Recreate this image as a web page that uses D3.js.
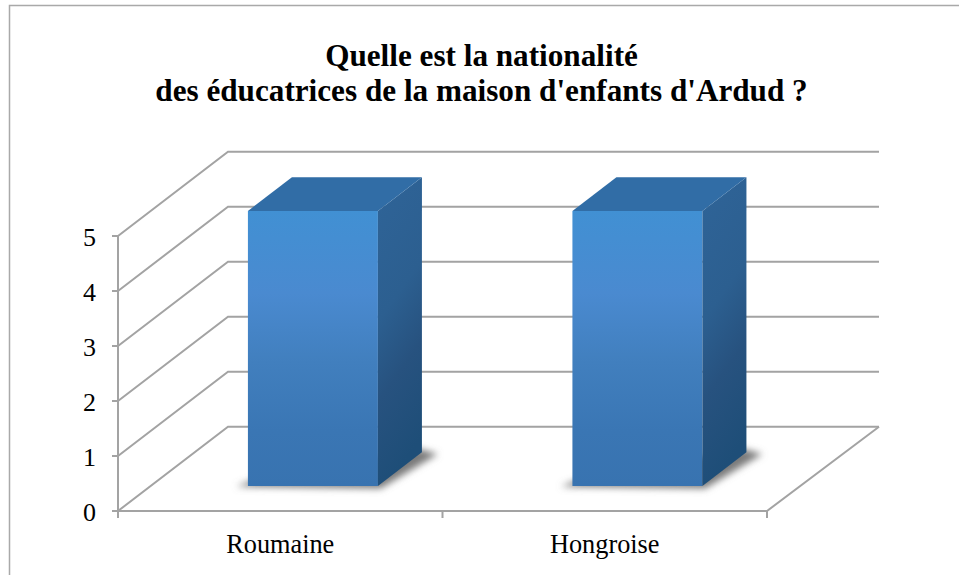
<!DOCTYPE html>
<html>
<head>
<meta charset="utf-8">
<script src="https://d3js.org/d3.v7.min.js"></script>
<style>
  html, body { margin: 0; padding: 0; background: #fff; }
  svg { display: block; }
  text { font-family: "Liberation Serif", serif; fill: #000; }
</style>
</head>
<body>
<svg id="chart" width="959" height="575"></svg>
<script>
var titleLines = ['Quelle est la nationalité', "des éducatrices de la maison d'enfants d'Ardud ?"];
var categories = ['Roumaine', 'Hongroise'];
var values = [5, 5];
var yTicks = [0, 1, 2, 3, 4, 5];

var width = 959, height = 575;
var gridColor = '#a3a3a3';
// how far the back wall is shifted from the front plane
var depthX = 110, depthY = -84.3;

var svg = d3.select('#chart');

var xScale = d3.scaleBand().domain(categories).range([118, 767]).paddingInner(0).paddingOuter(0);
var yScale = d3.scaleLinear().domain([0, 5]).range([511, 236]);
var zScale = d3.scaleLinear().domain([0, 1]).range([0, 1]);

// category px, value, depth (0 = front, 1 = back) to screen coords
function project(px, v, z) {
  return [px + zScale(z) * depthX, yScale(v) + zScale(z) * depthY];
}
function poly(points) {
  return points.map(function(p) { return p.join(','); }).join(' ');
}

var defs = svg.append('defs');

function addGradient(id, stops, x2, y2) {
  var g = defs.append('linearGradient').attr('id', id)
    .attr('x1', 0).attr('y1', 0).attr('x2', x2).attr('y2', y2);
  stops.forEach(function(s) {
    g.append('stop').attr('offset', s[0]).attr('stop-color', s[1]);
  });
}
addGradient('frontFill', [[0, '#4190d3'], [0.3, '#4a8ad0'], [0.55, '#417fbe'], [0.8, '#3a76b4'], [1, '#3873b0']], 0, 1);
addGradient('sideFill', [[0, '#2f6498'], [0.45, '#2c5f90'], [0.7, '#27527f'], [1, '#1e4e78']], 0.2, 1);

defs.append('filter').attr('id', 'barShadow')
  .attr('x', '-20%').attr('y', '-20%').attr('width', '140%').attr('height', '140%')
  .append('feGaussianBlur').attr('stdDeviation', 3.5);

// chart frame, runs off the right and bottom of the picture
svg.append('path')
  .attr('d', 'M9.5,575V5.5H959')
  .attr('fill', 'none').attr('stroke', '#a9a9a9').attr('stroke-width', 1.5);

// title
svg.selectAll('text.title').data(titleLines).enter().append('text')
  .attr('class', 'title')
  .attr('x', 481.5)
  .attr('y', function(d, i) { return 66 + i * 34.5; })
  .attr('text-anchor', 'middle')
  .attr('font-size', 31.2)
  .attr('font-weight', 'bold')
  .text(function(d) { return d; });

var x0 = xScale.range()[0], x1 = xScale.range()[1];
var grid = svg.append('g')
  .attr('fill', 'none').attr('stroke', gridColor).attr('stroke-width', 2);

// side wall diagonals and back wall lines
yTicks.forEach(function(t) {
  var front = project(x0, t, 0), back = project(x0, t, 1), end = project(x1 + 2, t, 1);
  grid.append('polyline').attr('points', poly([front, back, end]));
});
// floor right edge and front edge
grid.append('polyline').attr('points', poly([project(x0, 0, 0), project(x1, 0, 0), project(x1 + 2, 0, 1)]));
// value axis
grid.append('line')
  .attr('x1', x0).attr('x2', x0)
  .attr('y1', yScale(5)).attr('y2', yScale(0));

// axis ticks
var ticks = svg.append('g').attr('stroke', gridColor).attr('stroke-width', 2);
yTicks.forEach(function(t) {
  ticks.append('line').attr('x1', x0 - 6).attr('x2', x0)
    .attr('y1', yScale(t)).attr('y2', yScale(t));
});
[x0, xScale(categories[1]), x1].forEach(function(px) {
  ticks.append('line').attr('x1', px).attr('x2', px)
    .attr('y1', yScale(0)).attr('y2', yScale(0) + 7);
});

// tick labels
svg.selectAll('text.ylab').data(yTicks).enter().append('text')
  .attr('class', 'ylab')
  .attr('x', 96)
  .attr('y', function(d) { return yScale(d) + 10; })
  .attr('text-anchor', 'end')
  .attr('font-size', 26)
  .text(function(d) { return d; });

svg.selectAll('text.xlab').data(categories).enter().append('text')
  .attr('class', 'xlab')
  .attr('x', function(d) { return xScale(d) + xScale.bandwidth() / 2; })
  .attr('y', 553)
  .attr('text-anchor', 'middle')
  .attr('font-size', 26.3)
  .text(function(d) { return d; });

// bars
var barWidth = 130, zFront = 0.297, zBack = 0.697;
categories.forEach(function(c, i) {
  var left = xScale(c) + (xScale.bandwidth() - barWidth) / 2;
  var right = left + barWidth;
  var v = values[i];
  var g = svg.append('g').attr('class', 'bar');

  // soft shadow on the floor
  g.append('polygon')
    .attr('points', poly([
      project(left - 11, 0, zFront - 0.005),
      project(right + 6, 0, zFront - 0.03),
      project(right + 18, 0, zBack - 0.02),
      project(right - 8, 0, zBack + 0.04),
      project(left, 0, zFront + 0.1)
    ]))
    .attr('fill', '#7a7a7a')
    .attr('filter', 'url(#barShadow)');

  g.append('polygon')
    .attr('points', poly([project(left, v, zFront), project(right, v, zFront), project(right, 0, zFront), project(left, 0, zFront)]))
    .attr('fill', 'url(#frontFill)');
  g.append('polygon')
    .attr('points', poly([project(right, v, zFront), project(right, v, zBack), project(right, 0, zBack), project(right, 0, zFront)]))
    .attr('fill', 'url(#sideFill)');
  g.append('polygon')
    .attr('points', poly([project(left, v, zFront), project(left, v, zBack), project(right, v, zBack), project(right, v, zFront)]))
    .attr('fill', '#316da6');
});
</script>
</body>
</html>
